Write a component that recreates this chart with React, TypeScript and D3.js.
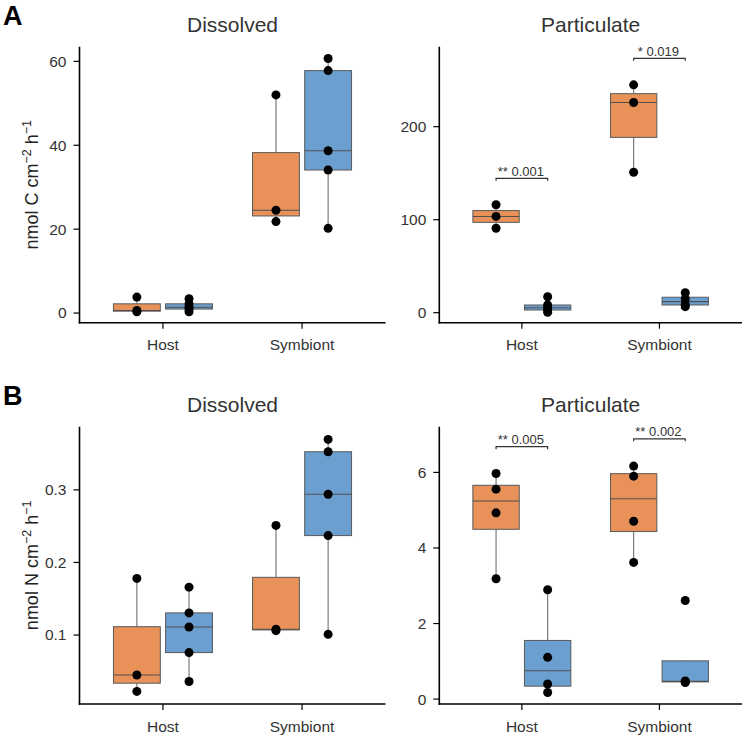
import React from "react";
import * as d3 from "d3";

// ---------- data ----------
const categories = ["Host", "Symbiont"];
const seriesNames = ["orange", "blue"];

// values per [category][series]
const aDissolvedValues = [
  [[0.3, 0.6, 3.8], [0.3, 0.95, 1.4, 2.2, 3.4]],
  [[21.8, 24.5, 52.0], [20.2, 34.1, 38.7, 57.8, 60.7]],
];
const aParticulateValues = [
  [[90.8, 103.5, 116.1], [0.5, 2.9, 5.4, 8.3, 17.2]],
  [[151, 226, 245], [6.5, 8.9, 15.0, 21.5]],
];
const bDissolvedValues = [
  [[0.0223, 0.045, 0.178], [0.036, 0.0758, 0.111, 0.1305, 0.166]],
  [[0.106, 0.108, 0.251], [0.101, 0.237, 0.294, 0.3525, 0.3695]],
];
const bParticulateValues = [
  [[3.186, 4.93, 5.556, 5.97], [0.175, 0.398, 1.105, 2.894]],
  [[3.618, 4.707, 5.9, 6.167], [0.44, 0.46, 0.48, 2.61]],
];

const aDissolvedTicks = [0, 20, 40, 60];
const aParticulateTicks = [0, 100, 200];
const bDissolvedTicks = [0.1, 0.2, 0.3];
const bParticulateTicks = [0, 2, 4, 6];

const aDissolvedDomain = [-2.3, 63.5];
const aParticulateDomain = [-10.75, 286];
const bDissolvedDomain = [0.005, 0.387];
const bParticulateDomain = [-0.13, 7.21];

const aParticulateBrackets = [
  { cat: 0, y: 144.5, label: "** 0.001" },
  { cat: 1, y: 273.5, label: "* 0.019" },
];
const bParticulateBrackets = [
  { cat: 0, y: 6.68, label: "** 0.005" },
  { cat: 1, y: 6.89, label: "** 0.002" },
];

// ---------- styles ----------
const FONT = "'Liberation Sans', Arial, Helvetica, sans-serif";
const FILLS: Record<string, string> = { orange: "#E8925A", blue: "#6A9FD0" };
const DODGE = 0.1875;
const BOX_W = 0.337;

type Bracket = { cat: number; y: number; label: string };
type PanelSpec = {
  key: string;
  title: string;
  values: number[][][];
  ticks: number[];
  domain: number[];
  brackets: Bracket[];
  xRange: [number, number];
  yRange: [number, number];
  yLabel?: "C" | "N";
  letter?: string;
};

function boxStats(vals: number[]) {
  const s = [...vals].sort((a, b) => a - b);
  const q1 = d3.quantileSorted(s, 0.25) as number;
  const med = d3.quantileSorted(s, 0.5) as number;
  const q3 = d3.quantileSorted(s, 0.75) as number;
  const iqr = q3 - q1;
  const lo = d3.min(s.filter((v) => v >= q1 - 1.5 * iqr)) as number;
  const hi = d3.max(s.filter((v) => v <= q3 + 1.5 * iqr)) as number;
  return { q1, med, q3, lo, hi };
}

function Panel({ p }: { p: PanelSpec }) {
  const x = d3.scaleLinear().domain([0.4, 2.6]).range(p.xRange);
  const y = d3.scaleLinear().domain(p.domain).range(p.yRange);
  const [x0, x1] = p.xRange;
  const [yb, yt] = p.yRange;
  const unit = x(1) - x(0);
  const fmt = (v: number) => (p.ticks.some((t) => t % 1 !== 0) ? d3.format(".1f")(v) : String(v));
  const cx = (x0 + x1) / 2;
  const cy = (yb + yt) / 2;

  return (
    <g>
      <text x={cx} y={yt - 14.5} textAnchor="middle" fontSize={21} fill="#333" fontFamily={FONT}>
        {p.title}
      </text>
      {p.letter && (
        <text x={3} y={yt - 22} fontSize={27} fontWeight="bold" fill="#000" fontFamily={FONT}>
          {p.letter}
        </text>
      )}
      {p.yLabel && (
        <text
          transform={`translate(${37.5},${cy}) rotate(-90)`}
          textAnchor="middle"
          fontSize={18}
          fill="#222"
          fontFamily={FONT}
        >
          {`nmol ${p.yLabel} cm`}
          <tspan fontSize={12.5} dy={-7}>−2</tspan>
          <tspan dy={7}> h</tspan>
          <tspan fontSize={12.5} dy={-7}>−1</tspan>
        </text>
      )}
      {/* boxes */}
      {p.values.map((cat, ci) =>
        cat.map((vals, si) => {
          const st = boxStats(vals);
          const xc = x(ci + 1 + (si === 0 ? -DODGE : DODGE));
          const hw = (BOX_W * unit) / 2;
          return (
            <g key={`${ci}-${si}`}>
              <line x1={xc} x2={xc} y1={y(st.hi)} y2={y(st.q3)} stroke="#707070" strokeWidth={1.1} />
              <line x1={xc} x2={xc} y1={y(st.q1)} y2={y(st.lo)} stroke="#707070" strokeWidth={1.1} />
              <rect
                x={xc - hw}
                y={y(st.q3)}
                width={hw * 2}
                height={Math.max(0.5, y(st.q1) - y(st.q3))}
                fill={FILLS[seriesNames[si]]}
                stroke="#5a5a5a"
                strokeWidth={1}
              />
              <line x1={xc - hw} x2={xc + hw} y1={y(st.med)} y2={y(st.med)} stroke="#505050" strokeWidth={1.1} />
              {vals.map((v, i) => (
                <circle key={i} cx={xc} cy={y(v)} r={4.5} fill="#000" />
              ))}
            </g>
          );
        })
      )}
      {/* brackets */}
      {p.brackets.map((b, i) => {
        const xa = x(b.cat + 1 - DODGE);
        const xb = x(b.cat + 1 + DODGE);
        const yy = y(b.y);
        return (
          <g key={i}>
            <path
              d={`M${xa},${yy + 2.5}L${xa},${yy}L${xb},${yy}L${xb},${yy + 2.5}`}
              fill="none"
              stroke="#333"
              strokeWidth={1.2}
            />
            <text x={(xa + xb) / 2 - 1} y={yy - 2.5} textAnchor="middle" fontSize={13} fill="#333" fontFamily={FONT}>
              {b.label}
            </text>
          </g>
        );
      })}
      {/* axes */}
      <line x1={x0} x2={x0} y1={yt} y2={yb + 0.8} stroke="#000" strokeWidth={1.6} />
      <line x1={x0 - 0.8} x2={x1} y1={yb} y2={yb} stroke="#000" strokeWidth={1.6} />
      {p.ticks.map((t) => (
        <g key={t}>
          <line x1={x0 - 6} x2={x0} y1={y(t)} y2={y(t)} stroke="#000" strokeWidth={1.2} />
          <text
            x={x0 - 13}
            y={y(t)}
            dy="0.35em"
            textAnchor="end"
            fontSize={15.5}
            fill="#333"
            fontFamily={FONT}
          >
            {fmt(t)}
          </text>
        </g>
      ))}
      {categories.map((c, i) => (
        <g key={c}>
          <line x1={x(i + 1)} x2={x(i + 1)} y1={yb} y2={yb + 6} stroke="#000" strokeWidth={1.2} />
          <text x={x(i + 1)} y={yb + 27.5} textAnchor="middle" fontSize={15.5} fill="#333" fontFamily={FONT}>
            {c}
          </text>
        </g>
      ))}
    </g>
  );
}

const LEFT: [number, number] = [79.5, 385.5];
const RIGHT: [number, number] = [439.3, 742];
const TOP: [number, number] = [322.7, 46.7];
const BOTTOM: [number, number] = [704, 426.7];

const panels: PanelSpec[] = [
  { key: "ad", title: "Dissolved", values: aDissolvedValues, ticks: aDissolvedTicks, domain: aDissolvedDomain, brackets: [], xRange: LEFT, yRange: TOP, yLabel: "C", letter: "A" },
  { key: "ap", title: "Particulate", values: aParticulateValues, ticks: aParticulateTicks, domain: aParticulateDomain, brackets: aParticulateBrackets, xRange: RIGHT, yRange: TOP },
  { key: "bd", title: "Dissolved", values: bDissolvedValues, ticks: bDissolvedTicks, domain: bDissolvedDomain, brackets: [], xRange: LEFT, yRange: BOTTOM, yLabel: "N", letter: "B" },
  { key: "bp", title: "Particulate", values: bParticulateValues, ticks: bParticulateTicks, domain: bParticulateDomain, brackets: bParticulateBrackets, xRange: RIGHT, yRange: BOTTOM },
];

export default function App() {
  return (
    <svg
      width={749}
      height={741}
      viewBox="0 0 749 741"
      style={{ position: "absolute", left: 0, top: 0, background: "#fff" }}
    >
      <rect x={0} y={0} width={749} height={741} fill="#fff" />
      {panels.map((p) => (
        <Panel key={p.key} p={p} />
      ))}
    </svg>
  );
}
